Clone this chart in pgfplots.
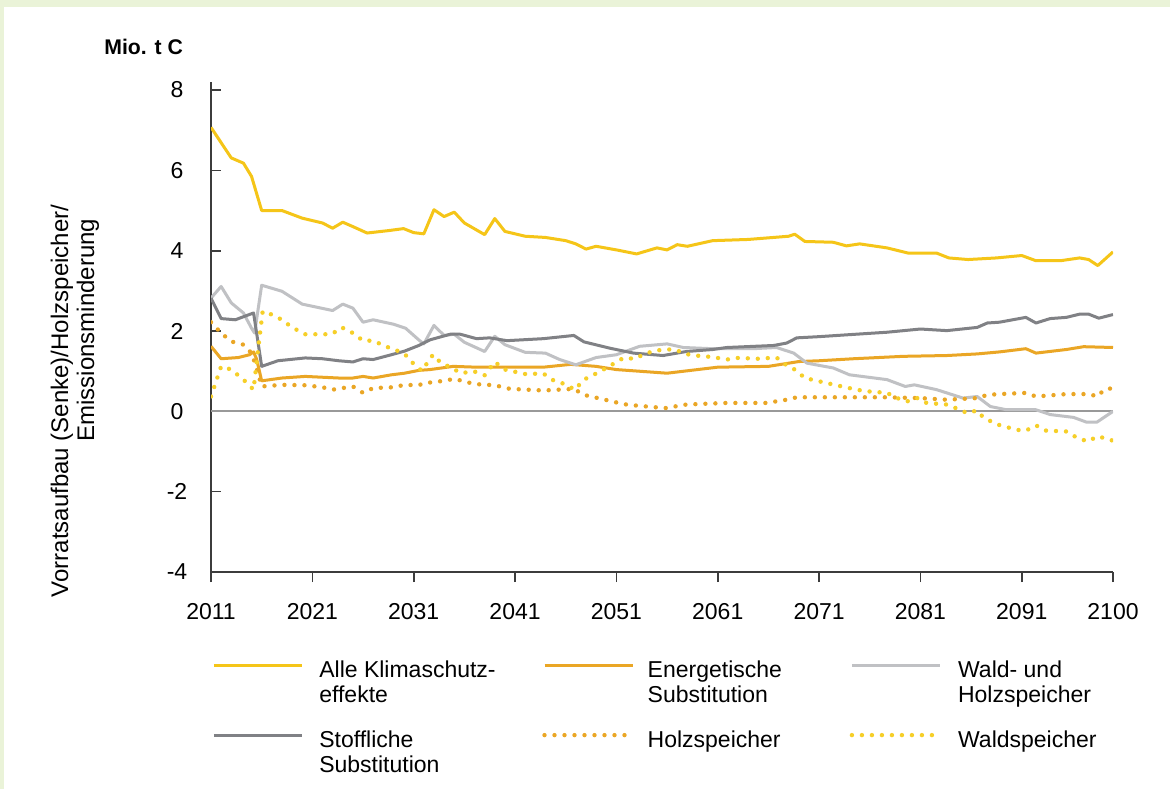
\documentclass[border=0pt]{standalone}
\usepackage{pgfplots}
\pgfplotsset{compat=1.18}
\usepackage{fontspec}
\setmainfont{Liberation Sans}
\definecolor{bggreen}{RGB}{234,243,216}
\definecolor{clrAll}{RGB}{245,197,24}
\definecolor{clrEnerg}{RGB}{234,166,37}
\definecolor{clrWH}{RGB}{192,193,196}
\definecolor{clrStoff}{RGB}{128,129,133}
\definecolor{clrHolz}{RGB}{234,166,37}
\definecolor{clrWald}{RGB}{246,207,40}
\definecolor{axisgray}{RGB}{60,60,60}
\begin{document}
\fontsize{11.5bp}{12.5bp}\selectfont
\begin{tikzpicture}
\fill[bggreen] (0,0) rectangle (585bp,-394.5bp);
\fill[white] (2bp,-3.5bp) rectangle (585bp,-394.5bp);
\node[anchor=west, font=\fontsize{10.6bp}{12bp}\selectfont\bfseries, inner sep=0pt] at (52bp,-23.5bp) {Mio. t C};
\node[rotate=90, inner sep=0pt, font=\fontsize{12bp}{13bp}\selectfont] at (31bp,-200.5bp) {Vorratsaufbau (Senke)/Holzspeicher/};
\node[rotate=90, inner sep=0pt, font=\fontsize{12bp}{13bp}\selectfont] at (44bp,-165bp) {Emissionsminderung};
\begin{axis}[
  at={(105.5bp,-286bp)}, anchor=south west,
  scale only axis, width=451bp, height=245bp,
  xmin=2011, xmax=2100, ymin=-4, ymax=8.2,
  axis lines*=left,
  axis line style={-, draw=axisgray, line width=0.8bp},
  xtick={2011,2021,2031,2041,2051,2061,2071,2081,2091,2100},
  xticklabels={2011,2021,2031,2041,2051,2061,2071,2081,2091,2100},
  ytick={-4,-2,0,2,4,6,8},
  yticklabels={-4,-2,0,2,4,6,8},
  xtick align=outside, ytick align=inside,
  major tick length=5bp,
  tick style={draw=axisgray, line width=0.8bp},
  yticklabel style={anchor=center, xshift=-17bp, inner sep=0pt},
  xticklabel style={anchor=north, inner sep=0pt, yshift=-10.5bp},
  extra y ticks={0}, extra y tick labels={},
  extra y tick style={grid=major, major grid style={draw=black!40, line width=1bp}, tick style={draw=none}},
  no markers,
  every axis plot/.append style={line join=round},
  legend columns=3,
  legend style={at={(0.001,-0.18)}, anchor=north west, draw=none, fill=none,
    inner sep=0pt, column sep=0pt, row sep=11.7bp,
    cells={anchor=base west}, nodes={inner sep=0pt, text depth=, text height=}},
  legend image code/.code={\draw[#1] (0bp,6bp) -- (44bp,6bp);},
]
\addplot[clrAll, line width=1.5bp] coordinates {
(2011,7.07) (2013,6.31) (2014.2,6.18) (2015,5.85) (2016,5.0) (2018,5.0) (2020,4.81)
(2022,4.69) (2023,4.56) (2024,4.71) (2025,4.60) (2026.4,4.44) (2028.5,4.50) (2030,4.55)
(2031,4.45) (2032,4.42) (2033,5.02) (2034,4.85) (2035,4.96) (2036,4.69) (2038,4.40)
(2039,4.80) (2040,4.48) (2042,4.36) (2044,4.33) (2046,4.25) (2047,4.17) (2048,4.04)
(2049,4.11) (2051,4.02) (2053,3.92) (2055,4.07) (2056,4.02) (2057,4.15) (2058,4.11)
(2060.5,4.25) (2064,4.28) (2068,4.36) (2068.6,4.41) (2069.6,4.23) (2072.4,4.21)
(2073.7,4.12) (2075,4.17) (2077.7,4.07) (2079.8,3.94) (2082.6,3.94) (2083.8,3.82)
(2085.7,3.78) (2088.5,3.82) (2091,3.88) (2092.4,3.75) (2094.8,3.75) (2096.7,3.82)
(2097.6,3.78) (2098.5,3.63) (2100,3.97)};
\addlegendentry{\hspace*{8bp}\parbox[t]{111.5bp}{Alle Klimaschutz-\\effekte}}
\addplot[clrEnerg, line width=1.5bp] coordinates {
(2011,1.62) (2012,1.31) (2013.7,1.34) (2014.8,1.41) (2015.2,1.48) (2015.5,1.30) (2016,0.76)
(2018,0.83) (2020.3,0.87) (2023.6,0.83) (2025,0.83) (2026,0.87) (2027,0.83) (2028.8,0.91)
(2030.1,0.95) (2031.5,1.02) (2032.6,1.04) (2034.9,1.12) (2037.2,1.10) (2040.5,1.10)
(2043.8,1.10) (2046.5,1.17) (2049,1.12) (2051,1.04) (2056,0.95) (2061,1.10) (2066,1.12)
(2069,1.24) (2071,1.26) (2074.4,1.31) (2079.3,1.37) (2083.6,1.39) (2086.6,1.43)
(2088.8,1.48) (2091.4,1.56) (2092.4,1.45) (2095.4,1.54) (2097.1,1.61) (2100,1.59)};
\addlegendentry{\hspace*{6.5bp}\parbox[t]{101bp}{Energetische\\Substitution}}
\addplot[clrWH, line width=1.5bp] coordinates {
(2011,2.82) (2012,3.11) (2013,2.70) (2014.2,2.45) (2015,2.07) (2015.3,1.95) (2016,3.14)
(2018,2.99) (2020,2.67) (2023,2.51) (2024,2.67) (2025,2.57) (2026,2.22) (2027,2.28)
(2029,2.17) (2030.2,2.07) (2031.5,1.78) (2032,1.68) (2033,2.14) (2034,1.89) (2035,1.92)
(2036,1.72) (2038,1.49) (2039,1.87) (2040,1.66) (2042,1.47) (2044,1.45) (2045.4,1.29)
(2047,1.16) (2049,1.34) (2051,1.41) (2053.3,1.62) (2056,1.68) (2057.6,1.59) (2060.5,1.56)
(2064.5,1.56) (2066.8,1.59) (2068.5,1.45) (2069.8,1.20) (2072.4,1.08) (2074,0.91)
(2077.7,0.79) (2079.5,0.62) (2080.4,0.66) (2082.6,0.54) (2085.2,0.33) (2086.6,0.37)
(2087.9,0.12) (2089.5,0.04) (2092.4,0.04) (2093.8,-0.08) (2096.1,-0.15) (2097.4,-0.27)
(2098.4,-0.27) (2100,0.00)};
\addlegendentry{\hspace*{8bp}\parbox[t]{90bp}{Wald- und\\Holzspeicher}}
\addplot[clrStoff, line width=1.5bp] coordinates {
(2011,2.82) (2012,2.31) (2013.4,2.28) (2015.2,2.45) (2016,1.12) (2017.6,1.26) (2020.3,1.33)
(2022,1.31) (2023.6,1.26) (2025,1.23) (2026,1.31) (2027,1.29) (2028.8,1.41) (2030.1,1.50)
(2031.5,1.64) (2032.6,1.78) (2034.6,1.92) (2035.6,1.92) (2037.2,1.81) (2038.5,1.83)
(2040.2,1.76) (2043.8,1.81) (2046.8,1.89) (2047.8,1.73) (2050.4,1.57) (2052.7,1.45)
(2055.6,1.39) (2057.9,1.49) (2060.5,1.54) (2061.9,1.59) (2066.5,1.64) (2067.8,1.70)
(2068.8,1.83) (2071,1.86) (2074,1.91) (2077.7,1.97) (2081,2.05) (2083.6,2.01)
(2086.6,2.09) (2087.6,2.20) (2088.8,2.22) (2091.4,2.34) (2092.4,2.20) (2093.8,2.31)
(2095.4,2.34) (2096.7,2.42) (2097.6,2.42) (2098.6,2.32) (2100,2.41)};
\addlegendentry{\hspace*{8bp}\parbox[t]{111.5bp}{Stoffliche\\Substitution}}
\addplot[clrHolz, line width=2.2bp, line cap=round, dash pattern=on 0bp off 5bp] coordinates {
(2011,2.22) (2012,1.95) (2013,1.74) (2014.2,1.66) (2015,1.45) (2015.5,1.08) (2016,0.62)
(2018,0.66) (2020.3,0.65) (2022,0.60) (2023,0.54) (2025,0.62) (2026,0.46) (2027,0.58)
(2029,0.60) (2030.1,0.66) (2031.5,0.65) (2032,0.70) (2034,0.76) (2035,0.81) (2037,0.68)
(2039,0.65) (2040.5,0.56) (2043.8,0.52) (2046.8,0.56) (2047.8,0.41) (2049.7,0.30)
(2051.7,0.18) (2052.7,0.15) (2055.8,0.08) (2057.9,0.17) (2061.9,0.21) (2065.8,0.21)
(2067.8,0.29) (2068.8,0.35) (2074,0.35) (2077.7,0.35) (2081,0.33) (2083.6,0.29)
(2086.6,0.33) (2087.6,0.41) (2088.8,0.43) (2091.4,0.46) (2092.4,0.37) (2095.4,0.43)
(2097.6,0.43) (2098.5,0.37) (2099.1,0.54) (2100,0.58)};
\addlegendentry{\hspace*{6.5bp}\parbox[t]{101bp}{Holzspeicher}}
\addplot[clrWald, line width=2.2bp, line cap=round, dash pattern=on 0bp off 5bp] coordinates {
(2011,0.37) (2012,1.12) (2013,1.04) (2014.2,0.79) (2015.2,0.54) (2015.7,1.66) (2016.1,2.49)
(2017,2.41) (2018,2.28) (2019,2.09) (2020.3,1.92) (2022.9,1.92) (2023.9,2.09) (2025,1.95)
(2026,1.76) (2027,1.76) (2028.2,1.62) (2029.2,1.53) (2030.1,1.43) (2031,1.18) (2031.8,1.01)
(2032.9,1.41) (2033.6,1.23) (2035.7,0.95) (2036.9,1.00) (2038,0.90) (2039,1.23) (2040,1.04)
(2042,0.93) (2043.8,0.94) (2044.8,0.77) (2045.9,0.68) (2046.9,0.54) (2047.8,0.79)
(2048.9,0.93) (2050,1.08) (2051.7,1.33) (2052.8,1.31) (2053.8,1.43) (2054.8,1.51)
(2055.8,1.54) (2056.8,1.54) (2057.8,1.43) (2058.8,1.39) (2059.8,1.37) (2061,1.33)
(2061.9,1.29) (2063,1.33) (2065,1.31) (2066.8,1.34) (2067.6,1.18) (2068.6,1.04)
(2069.6,0.83) (2070.8,0.76) (2072.7,0.65) (2074.7,0.54) (2075.7,0.50) (2077.7,0.46)
(2078.7,0.33) (2079.7,0.25) (2080.7,0.33) (2081.6,0.21) (2083.6,0.17) (2084.6,0.07)
(2085.6,-0.04) (2086.6,0.02) (2087.2,-0.15) (2088.5,-0.32) (2090.5,-0.46) (2091.4,-0.48)
(2092.4,-0.35) (2093.4,-0.48) (2095.4,-0.50) (2096.4,-0.65) (2097.5,-0.75) (2098.5,-0.62)
(2100,-0.73)};
\addlegendentry{\hspace*{8bp}\parbox[t]{90bp}{Waldspeicher}}
\end{axis}
\pgfresetboundingbox
\useasboundingbox (0,0) rectangle (585bp,-394.5bp);
\end{tikzpicture}
\end{document}
